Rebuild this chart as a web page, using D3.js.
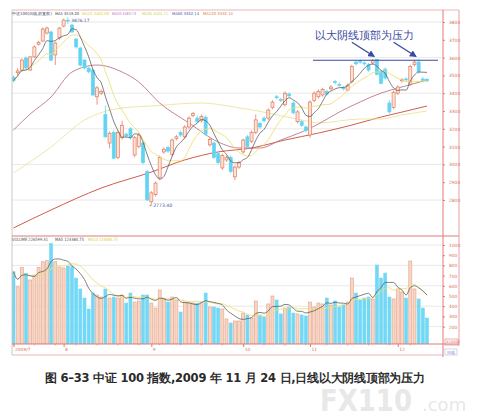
<!DOCTYPE html>
<html>
<head>
<meta charset="utf-8">
<script src="https://cdn.jsdelivr.net/npm/d3@7"></script>
<style>
body { margin: 0; background: #fff; }
svg { display: block; }
text { font-family: "DejaVu Sans", sans-serif; }
</style>
</head>
<body>
<div id="chart"></div>
<script>
// daily bars, 2009/7/16 .. 2009/12
const opens  = [3490,3515,3530,3598,3530,3604,3675,3693,3738,3744,3615,3710,3777,3810,3783,3704,3654,3586,3540,3530,
                3380,3400,3280,3120,3180,3040,3150,3170,3200,3053,3100,3120,2960,2790,2830,2925,3070,3095,3055,3145,
                3180,3155,3210,3275,3260,3245,3265,3110,3120,3060,2980,3025,3040,2930,2985,3070,3155,3130,3180,3230,
                3260,3260,3320,3380,3365,3335,3395,3345,3240,3240,3210,3165,3360,3380,3390,3410,3425,3465,3450,3430,
                3418,3465,3575,3580,3570,3560,3570,3590,3525,3535,3345,3320,3400,3470,3480,3450,3560,3575,3480,3478];
const highs  = [3500,3540,3595,3605,3610,3668,3695,3770,3775,3752,3690,3772,3818,3826,3790,3710,3660,3592,3548,3535,
                3440,3420,3330,3185,3190,3190,3245,3180,3210,3160,3175,3130,2970,2850,2905,3050,3095,3105,3145,3165,
                3190,3220,3270,3295,3275,3280,3275,3150,3130,3070,3060,3050,3050,2995,3020,3145,3165,3190,3280,3240,
                3270,3315,3360,3390,3375,3410,3405,3355,3305,3250,3220,3360,3410,3420,3430,3420,3445,3475,3460,3440,
                3455,3560,3585,3590,3580,3570,3592,3592,3530,3545,3360,3415,3445,3485,3490,3560,3588,3592,3490,3485];
const lows   = [3460,3500,3520,3535,3525,3598,3668,3688,3730,3580,3558,3700,3770,3790,3738,3650,3550,3535,3512,3385,
                3335,3390,3150,3090,3030,3030,3140,3150,3140,3040,3090,3000,2795,2773,2820,2915,3060,3065,3045,3135,
                3155,3145,3200,3265,3230,3235,3160,3100,3030,3000,2970,3015,2950,2912,2975,3060,3090,3120,3170,3200,
                3235,3250,3310,3365,3350,3325,3375,3280,3230,3210,3180,3150,3350,3370,3380,3385,3415,3450,3435,3415,
                3410,3455,3555,3565,3555,3520,3560,3500,3450,3475,3285,3310,3390,3460,3465,3440,3550,3510,3460,3462];
const closes = [3470,3525,3586,3542,3604,3660,3685,3760,3766,3586,3682,3766,3811,3805,3744,3660,3558,3542,3520,3390,
                3430,3410,3155,3175,3035,3180,3220,3160,3150,3150,3165,3010,2800,2840,2895,3040,3085,3075,3137,3155,
                3165,3210,3260,3285,3240,3270,3170,3140,3040,3010,3050,3040,2960,2985,3010,3137,3100,3180,3250,3210,
                3245,3305,3350,3375,3360,3400,3385,3290,3295,3220,3190,3350,3400,3410,3420,3395,3435,3460,3445,3425,
                3445,3550,3565,3575,3565,3530,3585,3505,3455,3485,3295,3405,3435,3475,3475,3550,3575,3520,3470,3470];
const volumes = [738,591,781,723,657,706,781,836,846,1015,836,784,775,794,787,676,569,480,373,529,
                 510,490,569,480,490,480,510,431,529,441,451,510,510,431,382,559,480,441,490,461,
                 343,441,431,431,431,441,529,392,392,382,373,275,235,255,255,333,314,284,451,314,
                 294,422,500,461,324,382,392,333,324,314,304,441,392,431,422,480,412,451,392,412,
                 441,676,529,461,480,490,471,804,676,725,490,471,569,539,480,843,569,471,382,284];

// slow averages: [bar index, value]
const ma20Line  = [[0,3193],[4,3283],[9,3379],[14,3519],[20,3558],[26,3519],[30,3463],[35,3345],[42,3233],[49,3126],
                   [54,3092],[59,3092],[64,3137],[69,3182],[73,3227],[78,3294],[83,3351],[88,3401],[93,3435],[99,3474]];
const ma60Line  = [[0,2952],[9,3098],[17,3249],[26,3317],[33,3328],[45,3345],[53,3322],[61,3289],[69,3249],[73,3233],
                   [83,3255],[88,3255],[93,3278],[99,3300]];
const ma120Line = [[0,2643],[9,2744],[21,2867],[33,2957],[41,3025],[49,3070],[57,3092],[65,3137],[73,3176],[81,3221],
                   [88,3266],[93,3294],[99,3328]];

const priceTicks = d3.range(2800, 3801, 100);
const volTicks = d3.range(200, 1001, 100);
const monthTicks = [0, 12, 33, 55, 71, 92];
const monthLabels = ["2009/7", "8", "9", "10", "11", "12"];

const resistance = 3585;
const highMark = 3826.17, lowMark = 2773.40;

const N = closes.length;
const W = 492, H = 417;
const L = 12, R = 443, RR = 459, T = 10, MB = 236, VB = 344, DB = 355;

const svg = d3.select("#chart").append("svg").attr("width", W).attr("height", H);

const x = d3.scaleLinear().domain([0, N - 1]).range([13.5, 427]);
const y = d3.scaleLinear().domain([2800, 3800]).range([200, 22]);
const yv = d3.scaleLinear().domain([0, 1000]).range([347, 245]);

const upStroke = "#e27a62", upFill = "#fde4d6", dnFill = "#62d4f2";

function ma(arr, n) {
    return arr.map((d, i) => d3.mean(arr.slice(Math.max(0, i - n + 1), i + 1)));
}

const defs = svg.append("defs");
defs.append("clipPath").attr("id", "clipMain").append("rect")
    .attr("x", L).attr("y", T).attr("width", R - L).attr("height", MB - T);
defs.append("clipPath").attr("id", "clipVol").append("rect")
    .attr("x", L).attr("y", MB).attr("width", R - L).attr("height", VB - MB);
defs.append("marker").attr("id", "arr").attr("viewBox", "0 0 10 10")
    .attr("refX", 8).attr("refY", 5).attr("markerWidth", 5).attr("markerHeight", 5)
    .attr("orient", "auto")
    .append("path").attr("d", "M0,0L10,5L0,10z").attr("fill", "#3a4aa2");

// grid
svg.append("g").selectAll("line").data(d3.range(2800, 3801, 200)).join("line")
    .attr("x1", L).attr("x2", R).attr("y1", d => y(d)).attr("y2", d => y(d))
    .attr("stroke", "#e2e2e2").attr("stroke-width", 0.8);
svg.append("g").selectAll("line").data(d3.range(200, 1001, 200)).join("line")
    .attr("x1", L).attr("x2", R).attr("y1", d => yv(d)).attr("y2", d => yv(d))
    .attr("stroke", "#e2e2e2").attr("stroke-width", 0.8);

// main panel
const main = svg.append("g").attr("clip-path", "url(#clipMain)");

const line = d3.line().x(d => x(d[0])).y(d => y(d[1])).curve(d3.curveMonotoneX);
main.append("path").attr("d", line(ma120Line)).attr("fill", "none").attr("stroke", "#cc4a3a").attr("stroke-width", 0.9);
main.append("path").attr("d", line(ma60Line)).attr("fill", "none").attr("stroke", "#ebe49a").attr("stroke-width", 0.9);
main.append("path").attr("d", line(ma20Line)).attr("fill", "none").attr("stroke", "#b8788a").attr("stroke-width", 0.9);

const candles = main.append("g").selectAll("g").data(d3.range(N)).join("g");
candles.append("line")
    .attr("x1", i => x(i)).attr("x2", i => x(i))
    .attr("y1", i => y(highs[i])).attr("y2", i => y(lows[i]))
    .attr("stroke", i => closes[i] >= opens[i] ? upStroke : dnFill).attr("stroke-width", 0.8);
candles.append("rect")
    .attr("x", i => x(i) - 1.5).attr("width", 3)
    .attr("y", i => y(Math.max(opens[i], closes[i])))
    .attr("height", i => Math.max(0.8, Math.abs(y(opens[i]) - y(closes[i]))))
    .attr("fill", i => closes[i] >= opens[i] ? upFill : dnFill)
    .attr("stroke", i => closes[i] >= opens[i] ? upStroke : dnFill)
    .attr("stroke-width", 0.7);

const ma5 = ma(closes, 5), ma10 = ma(closes, 10);
const lineI = d3.line().x((d, i) => x(i)).y(d => y(d)).curve(d3.curveMonotoneX);
main.append("path").attr("d", lineI(ma10)).attr("fill", "none").attr("stroke", "#eee070").attr("stroke-width", 0.9);
main.append("path").attr("d", lineI(ma5)).attr("fill", "none").attr("stroke", "#555").attr("stroke-width", 0.75);

// resistance annotation
const iHigh = highs.indexOf(d3.max(highs));
const iLow = lows.indexOf(d3.min(lows));
svg.append("line").attr("x1", 313).attr("x2", 438)
    .attr("y1", y(resistance)).attr("y2", y(resistance))
    .attr("stroke", "#3a4aa2").attr("stroke-width", 1.1);
[87, 97].forEach(i => {
    svg.append("line")
        .attr("x1", x(i) - 25).attr("y1", y(resistance) - 18)
        .attr("x2", x(i) - 3).attr("y2", y(resistance) - 4)
        .attr("stroke", "#3a4aa2").attr("stroke-width", 1.4)
        .attr("marker-end", "url(#arr)");
});
svg.append("text").attr("x", 315).attr("y", 39)
    .attr("font-size", 11).attr("fill", "#3a4aa2")
    .attr("font-family", "Noto Sans CJK SC")
    .text("以大阴线顶部为压力");

svg.append("text").attr("x", x(iHigh) + 3.5).attr("y", y(highMark) + 4.5)
    .attr("font-size", 4.4).attr("fill", "#4a5a9a").text("3826.17");
svg.append("text").attr("x", x(iLow) - 2).attr("y", y(lowMark) + 2)
    .attr("font-size", 4.6).attr("fill", "#4a5a9a").text("←2773.40");

// volume panel
const vol = svg.append("g").attr("clip-path", "url(#clipVol)");
vol.selectAll("rect").data(d3.range(N)).join("rect")
    .attr("x", i => x(i) - 1.5).attr("width", 3)
    .attr("y", i => yv(volumes[i]))
    .attr("height", i => VB - yv(volumes[i]))
    .attr("fill", i => closes[i] >= opens[i] ? "#f8d6c4" : "#72d8f5")
    .attr("stroke", i => closes[i] >= opens[i] ? "#e2a088" : "#72d8f5")
    .attr("stroke-width", 0.6);
const lineV = d3.line().x((d, i) => x(i)).y(d => yv(d)).curve(d3.curveMonotoneX);
vol.append("path").attr("d", lineV(ma(volumes, 10))).attr("fill", "none").attr("stroke", "#eee070").attr("stroke-width", 0.9);
vol.append("path").attr("d", lineV(ma(volumes, 5))).attr("fill", "none").attr("stroke", "#555").attr("stroke-width", 0.75);

// frame
const frame = svg.append("g").attr("fill", "none");
frame.append("line").attr("x1", L).attr("x2", RR).attr("y1", T).attr("y2", T).attr("stroke", "#e8b8b8");
frame.append("line").attr("x1", L).attr("x2", L).attr("y1", T).attr("y2", DB).attr("stroke", "#c8c8c8");
frame.append("line").attr("x1", L).attr("x2", RR).attr("y1", MB).attr("y2", MB).attr("stroke", "#e07a7a");
frame.append("line").attr("x1", L).attr("x2", RR).attr("y1", VB).attr("y2", VB).attr("stroke", "#e07a7a");
frame.append("line").attr("x1", L).attr("x2", R).attr("y1", DB).attr("y2", DB).attr("stroke", "#e8b8b8");
frame.append("line").attr("x1", R).attr("x2", R).attr("y1", T).attr("y2", DB + 2).attr("stroke", "#e07a7a");
frame.append("line").attr("x1", RR).attr("x2", RR).attr("y1", T).attr("y2", VB + 2).attr("stroke", "#e8a0a0");
frame.append("rect").attr("x", R + 2).attr("y", VB - 5).attr("width", RR - R - 3).attr("height", 6).attr("stroke", "#e07a7a").attr("stroke-width", 0.6);
frame.append("rect").attr("x", R + 2).attr("y", VB + 5).attr("width", RR - R - 4).attr("height", 6).attr("stroke", "#b8b8e0").attr("stroke-width", 0.6);

// axes
function styleAxis(g) {
    g.select(".domain").remove();
    g.selectAll(".tick line").attr("stroke", "#e07a7a");
    g.selectAll(".tick text").attr("font-size", 4.4).attr("fill", "#d8705e").attr("font-family", "DejaVu Sans");
}
svg.append("g").attr("transform", `translate(${R},0)`)
    .call(d3.axisRight(y).tickValues(priceTicks).tickSize(2).tickPadding(4).tickFormat(d3.format("d")))
    .call(styleAxis);
svg.append("g").attr("transform", `translate(${R},0)`)
    .call(d3.axisRight(yv).tickValues(volTicks).tickSize(2).tickPadding(4).tickFormat(d3.format("d")))
    .call(styleAxis);
svg.append("g").attr("transform", `translate(0,${VB})`)
    .call(d3.axisBottom(x).tickValues(monthTicks).tickSize(3).tickPadding(1)
        .tickFormat((d, i) => monthLabels[i]))
    .call(styleAxis)
    .call(g => g.selectAll(".tick text").attr("text-anchor", "start").attr("dx", 1));
svg.append("g").selectAll("line").data(d3.range(0, N, 5)).join("line")
    .attr("x1", i => x(i)).attr("x2", i => x(i)).attr("y1", VB).attr("y2", VB + 1.5)
    .attr("stroke", "#e07a7a").attr("stroke-width", 0.6);
svg.append("text").attr("x", R + 3).attr("y", VB - 0.6).attr("font-size", 3.6).attr("fill", "#d8705e").text("X10000");
svg.append("text").attr("x", R + 4).attr("y", VB + 9.6).attr("font-size", 3.8).attr("fill", "#8080c0").text("日线");

// legends: [text, colour, x, width]
const legendTop = [
    ["中证100(日线,前复权)", "#404060", 12, 40],
    ["MA5 3519.20", "#404040", 55, 24],
    ["MA10 3460.08", "#e0d040", 82, 27],
    ["MA20 3483.73", "#c070c0", 112, 24],
    ["MA30 3424.71", "#c8d050", 142, 26],
    ["MA60 3332.14", "#5050a8", 172, 27],
    ["MA120 3332.14", "#e07838", 203, 30]
];
svg.append("g").selectAll("text").data(legendTop).join("text")
    .attr("x", d => d[2]).attr("y", 14.5).attr("font-size", 3.9)
    .attr("textLength", d => d[3]).attr("lengthAdjust", "spacingAndGlyphs")
    .attr("fill", d => d[1]).text(d => d[0]);
const legendVol = [
    ["VOLUME 226599.31", "#505050", 12, 36],
    ["MA5 123384.75", "#505050", 55, 29],
    ["MA10 133084.75", "#e0d040", 88, 30]
];
svg.append("g").selectAll("text").data(legendVol).join("text")
    .attr("x", d => d[2]).attr("y", 241).attr("font-size", 4.4)
    .attr("textLength", d => d[3]).attr("lengthAdjust", "spacingAndGlyphs")
    .attr("fill", d => d[1]).text(d => d[0]);

// caption, watermark kept clear of it
svg.append("text").attr("x", 45).attr("y", 382)
    .attr("font-size", 11.5).attr("font-weight", "bold").attr("fill", "#2a2a2a")
    .attr("font-family", "Noto Sans CJK SC")
    .attr("textLength", 380).attr("lengthAdjust", "spacing")
    .text("图 6–33   中证 100 指数,2009 年 11 月 24 日,日线以大阴线顶部为压力");
svg.append("text").attr("x", 320).attr("y", 411)
    .attr("font-size", 30).attr("font-weight", "bold").attr("fill", "#e8e8e8")
    .attr("textLength", 92).attr("lengthAdjust", "spacingAndGlyphs")
    .text("FX110");
svg.append("text").attr("x", 422).attr("y", 411)
    .attr("font-size", 18).attr("fill", "#e8e8e8")
    .text(".com");
</script>
</body>
</html>
